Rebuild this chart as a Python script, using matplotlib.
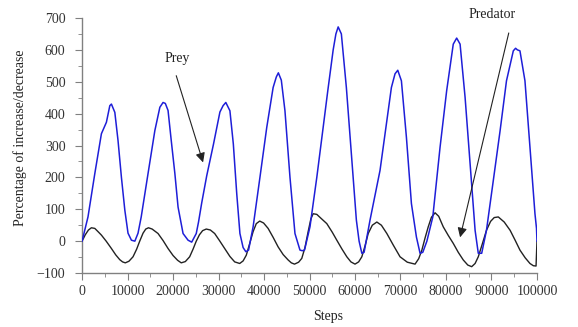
import numpy as np
import matplotlib
matplotlib.use("Agg")
import matplotlib.pyplot as plt
from matplotlib.ticker import MultipleLocator

# prey curve (step, percent)
prey_steps = [0, 1300, 2800, 4250, 5350, 6100, 6450, 7200, 7900, 8650, 9400, 10100, 10850, 11600,
              12300, 13000, 14500, 16000, 17100, 17800, 18300, 18900, 19600, 20400, 21100, 22200, 23300, 24100,
              25100, 25600, 26300, 27400, 28900, 30300, 31000, 31600, 32500, 33250, 34000, 34700, 35400, 36000, 36600,
              37600, 39100, 40600, 42000, 42700, 43150, 43800, 44600, 45700, 46800, 47900, 48400, 48900,
              50100, 51600, 53000, 54000, 55200, 55800, 56300, 57000, 58100, 59200, 60300, 60900, 61500, 62000,
              63300, 65500, 67000, 68000, 68800, 69400, 70200, 71300, 72400, 73500, 74300, 74900,
              75800, 77100, 78700, 80150, 81600, 82350, 83100, 84200, 85300, 86400, 87100, 87850,
              88900, 90400, 91900, 93300, 94800, 95300, 95700, 96260, 97360, 98460, 99560, 99900, 100000]
prey_vals = [0, 76, 212, 337, 373, 425, 430, 404, 316, 200, 97, 25, 3, 0,
             25, 76, 212, 347, 420, 435, 432, 410, 316, 212, 107, 24, 3, -3,
             24, 60, 120, 205, 305, 405, 425, 435, 409, 305, 149, 24, -20, -33, -28,
             45, 200, 357, 482, 515, 528, 505, 409, 201, 24, -28, -30, -28,
             45, 200, 357, 470, 600, 650, 672, 650, 482, 274, 66, 0, -38, -35,
             66, 222, 378, 482, 525, 536, 503, 326, 118, 13, -38, -35,
             0, 76, 295, 472, 618, 637, 618, 451, 243, 34, -38, -38,
             34, 190, 347, 503, 597, 605, 600, 597, 503, 295, 86, 40, 0]

# predator curve
pred_steps = [0, 700, 1400, 2050, 2800, 3500, 4250, 5300, 6450, 7400, 8280, 8900, 9500, 10300, 11200, 12000,
              12670, 13400, 14000, 14600, 15400, 16700, 17800, 18900, 20000, 21000, 21800, 22700, 23650, 24400,
              25100, 25800, 26500, 27300, 28200, 29150, 30200, 31350, 32500, 33550, 34650, 35400, 36100, 36900,
              37600, 38300, 39050, 39900, 40900, 42000, 43100, 44200, 45300, 46000, 46700, 47600, 48300, 49000,
              49700, 50300, 50800, 51600, 52500, 53800, 55000, 56000, 57100, 58200, 59100, 60000, 60800, 61500,
              62200, 62900, 63800, 64800, 65800, 67000, 68400, 69900, 71500, 73200, 74000, 74700, 75400, 76100,
              76800, 77600, 78400, 79400, 80500, 81600, 82700, 83800, 84800, 85650, 86400, 87100, 88000, 88900,
              89800, 90600, 91500, 92800, 94100, 95200, 96260, 97400, 98460, 99200, 99800, 100000]
pred_vals = [0, 20, 35, 42, 40, 30, 19, 0, -23, -43, -58, -65, -68, -63, -49, -25,
             0, 25, 38, 42, 38, 24, 2, -23, -45, -60, -68, -64, -49, -25,
             0, 20, 33, 38, 35, 24, 2, -23, -48, -65, -70, -62, -44, -5,
             30, 55, 63, 57, 40, 12, -18, -42, -59, -68, -72, -66, -54, -20,
             30, 70, 86, 84, 72, 55, 28, 3, -24, -49, -65, -72, -65, -49,
             -15, 24, 50, 60, 50, 24, -12, -49, -66, -72, -55, -28, 10, 45,
             75, 89, 78, 45, 18, -7, -35, -59, -75, -80, -70, -49, -8, 34,
             62, 74, 76, 60, 34, 3, -28, -52, -70, -77, -78, 0]

x_ticks = list(range(0, 100001, 10000))
y_ticks = list(range(-100, 701, 100))

plt.rcParams['font.family'] = ['Liberation Serif', 'DejaVu Serif']

fig = plt.figure(figsize=(5.78, 3.27), dpi=100)
ax = fig.add_axes([0.142, 0.165, 0.787, 0.780])

ax.plot(prey_steps, prey_vals, color='#1e1ed8', lw=1.1, zorder=3)
ax.plot(pred_steps, pred_vals, color='#222222', lw=1.0, zorder=2)

ax.set_xlim(0, 100000)
ax.set_ylim(-100, 700)
ax.set_xticks(x_ticks)
ax.set_yticks(y_ticks)
ax.xaxis.set_minor_locator(MultipleLocator(5000))
ax.yaxis.set_minor_locator(MultipleLocator(50))

for s in ['top', 'right']:
    ax.spines[s].set_visible(False)
for s in ['left', 'bottom']:
    ax.spines[s].set_color('#808080')
    ax.spines[s].set_linewidth(1.0)

ax.tick_params(which='both', direction='out', color='#808080', labelsize=10, labelcolor='#333333')
ax.tick_params(which='major', length=5)
ax.tick_params(which='minor', length=3)
ax.tick_params(axis='y', pad=7)

ax.set_xlabel('Steps', fontsize=10, color='#222222')
ax.xaxis.set_label_coords(0.54, -0.145)
ax.set_ylabel('Percentage of increase/decrease', fontsize=10, color='#222222')
ax.yaxis.set_label_coords(-0.122, 0.53)

# labels with arrows
ax.text(20900, 572, 'Prey', ha='center', va='center', fontsize=10, color='#222222')
ax.annotate('', xy=(26600, 247), xytext=(20700, 519),
            arrowprops=dict(arrowstyle='-|>', color='#222222', lw=0.8, mutation_scale=14,
                            shrinkA=0, shrinkB=0))
ax.text(90100, 712, 'Predator', ha='center', va='center', fontsize=10, color='#222222', clip_on=False)
ax.annotate('', xy=(83100, 12), xytext=(93800, 653), annotation_clip=False,
            arrowprops=dict(arrowstyle='-|>', color='#222222', lw=0.8, mutation_scale=14,
                            shrinkA=0, shrinkB=0))

fig.savefig('out.png', dpi=100)
